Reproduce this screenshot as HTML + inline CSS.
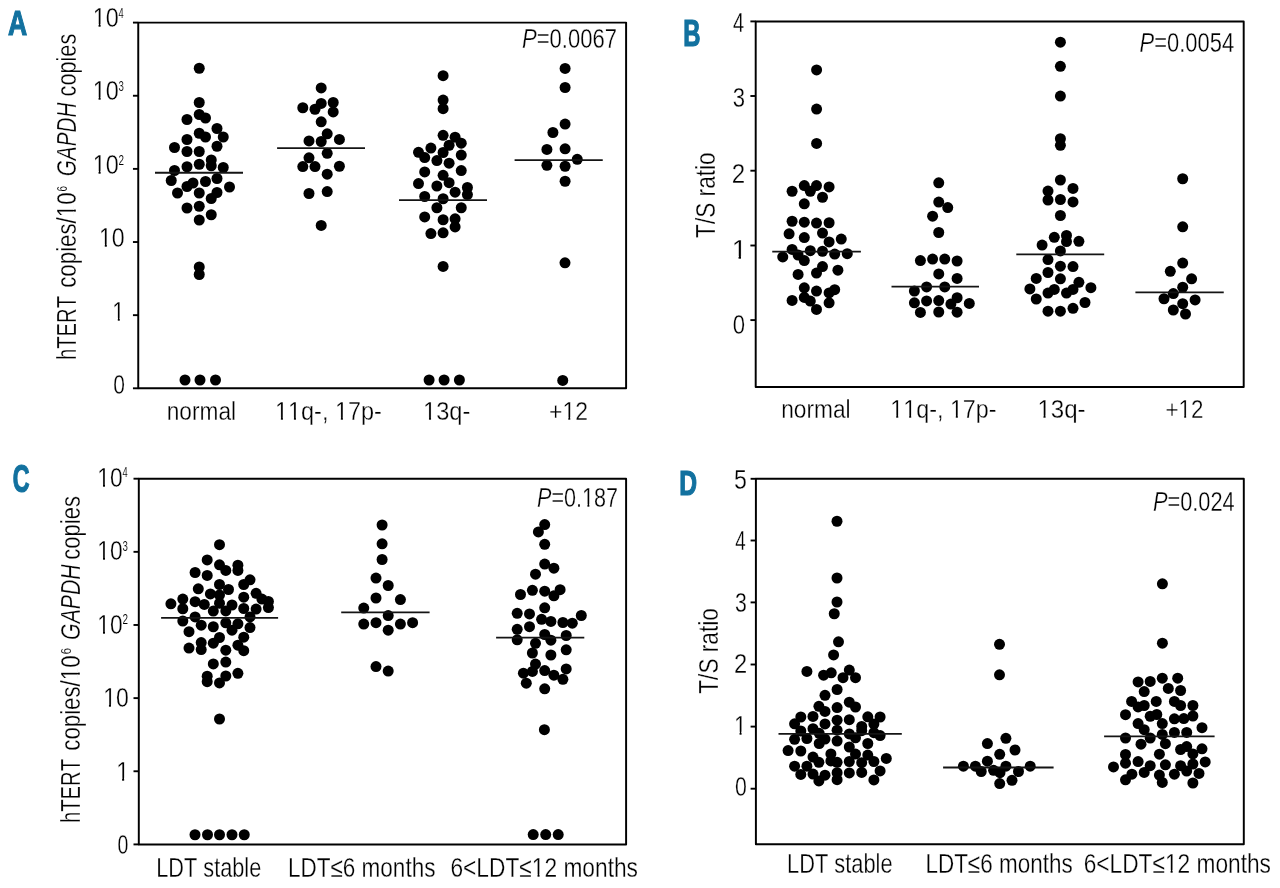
<!DOCTYPE html>
<html><head><meta charset="utf-8"><title>Figure</title>
<style>html,body{margin:0;padding:0;background:#fff;}#wrap{width:1280px;height:888px;will-change:transform;}svg{display:block;}text{font-family:"Liberation Sans",sans-serif;font-kerning:none;}.t{stroke:#fff;stroke-width:0.3px;}.b{stroke:#12719f;stroke-width:1.2px;stroke-linejoin:miter;}.s{stroke:#fff;stroke-width:0.12px;}</style></head><body><div id="wrap">
<svg width="1280" height="888" viewBox="0 0 1280 888">
<defs><mask id="m" maskUnits="userSpaceOnUse" x="0" y="0" width="1280" height="888"><rect width="1280" height="888" fill="#fff"/></mask></defs>
<rect width="1280" height="888" fill="#fff"/>
<rect x="138.25" y="22.6" width="487.85" height="365.7" fill="none" stroke="#000" stroke-width="1.95" stroke-linejoin="round"/>
<line x1="132.95" y1="22.6" x2="138.25" y2="22.6" stroke="#000" stroke-width="1.9"/>
<line x1="132.95" y1="95.74" x2="138.25" y2="95.74" stroke="#000" stroke-width="1.9"/>
<line x1="132.95" y1="168.88" x2="138.25" y2="168.88" stroke="#000" stroke-width="1.9"/>
<line x1="132.95" y1="242.02" x2="138.25" y2="242.02" stroke="#000" stroke-width="1.9"/>
<line x1="132.95" y1="315.16" x2="138.25" y2="315.16" stroke="#000" stroke-width="1.9"/>
<line x1="132.95" y1="388.3" x2="138.25" y2="388.3" stroke="#000" stroke-width="1.9"/>
<rect x="755.7" y="21.4" width="488.0" height="365.6" fill="none" stroke="#000" stroke-width="1.95" stroke-linejoin="round"/>
<line x1="750.4" y1="21.4" x2="755.7" y2="21.4" stroke="#000" stroke-width="1.9"/>
<line x1="750.4" y1="96.0" x2="755.7" y2="96.0" stroke="#000" stroke-width="1.9"/>
<line x1="750.4" y1="170.7" x2="755.7" y2="170.7" stroke="#000" stroke-width="1.9"/>
<line x1="750.4" y1="245.5" x2="755.7" y2="245.5" stroke="#000" stroke-width="1.9"/>
<line x1="750.4" y1="320.1" x2="755.7" y2="320.1" stroke="#000" stroke-width="1.9"/>
<rect x="138.8" y="478.7" width="487.3" height="365.7" fill="none" stroke="#000" stroke-width="1.95" stroke-linejoin="round"/>
<line x1="133.5" y1="478.7" x2="138.8" y2="478.7" stroke="#000" stroke-width="1.9"/>
<line x1="133.5" y1="551.84" x2="138.8" y2="551.84" stroke="#000" stroke-width="1.9"/>
<line x1="133.5" y1="624.98" x2="138.8" y2="624.98" stroke="#000" stroke-width="1.9"/>
<line x1="133.5" y1="698.12" x2="138.8" y2="698.12" stroke="#000" stroke-width="1.9"/>
<line x1="133.5" y1="771.26" x2="138.8" y2="771.26" stroke="#000" stroke-width="1.9"/>
<line x1="133.5" y1="844.4" x2="138.8" y2="844.4" stroke="#000" stroke-width="1.9"/>
<rect x="755.9" y="478.8" width="487.9" height="365.5" fill="none" stroke="#000" stroke-width="1.95" stroke-linejoin="round"/>
<line x1="750.6" y1="478.8" x2="755.9" y2="478.8" stroke="#000" stroke-width="1.9"/>
<line x1="750.6" y1="540.5" x2="755.9" y2="540.5" stroke="#000" stroke-width="1.9"/>
<line x1="750.6" y1="602.4" x2="755.9" y2="602.4" stroke="#000" stroke-width="1.9"/>
<line x1="750.6" y1="664.5" x2="755.9" y2="664.5" stroke="#000" stroke-width="1.9"/>
<line x1="750.6" y1="726.6" x2="755.9" y2="726.6" stroke="#000" stroke-width="1.9"/>
<line x1="750.6" y1="788.7" x2="755.9" y2="788.7" stroke="#000" stroke-width="1.9"/>
<g id="dotsA">
<g fill="#000">
<circle cx="199.25" cy="68.25" r="5.5"/>
<circle cx="199.25" cy="102.5" r="5.5"/>
<circle cx="199.25" cy="114.5" r="5.5"/>
<circle cx="205.5" cy="118" r="5.5"/>
<circle cx="187" cy="119.5" r="5.5"/>
<circle cx="217" cy="128.5" r="5.5"/>
<circle cx="199.25" cy="133.25" r="5.5"/>
<circle cx="205.5" cy="137" r="5.5"/>
<circle cx="223.25" cy="137" r="5.5"/>
<circle cx="187" cy="139.5" r="5.5"/>
<circle cx="217" cy="146.25" r="5.5"/>
<circle cx="174.5" cy="147.5" r="5.5"/>
<circle cx="187" cy="151.5" r="5.5"/>
<circle cx="199.25" cy="151.5" r="5.5"/>
<circle cx="211.25" cy="160" r="5.5"/>
<circle cx="199.25" cy="164.25" r="5.5"/>
<circle cx="211.25" cy="165.75" r="5.5"/>
<circle cx="187" cy="166.75" r="5.5"/>
<circle cx="223.25" cy="167.5" r="5.5"/>
<circle cx="174.5" cy="170.5" r="5.5"/>
<circle cx="217" cy="178.5" r="5.5"/>
<circle cx="171.25" cy="180.5" r="5.5"/>
<circle cx="205.5" cy="181.5" r="5.5"/>
<circle cx="193" cy="183" r="5.5"/>
<circle cx="187" cy="186.5" r="5.5"/>
<circle cx="229.5" cy="187" r="5.5"/>
<circle cx="217" cy="192.5" r="5.5"/>
<circle cx="177.5" cy="193" r="5.5"/>
<circle cx="199.25" cy="193" r="5.5"/>
<circle cx="211.25" cy="198.5" r="5.5"/>
<circle cx="199.25" cy="206.25" r="5.5"/>
<circle cx="187" cy="208" r="5.5"/>
<circle cx="211.25" cy="214.75" r="5.5"/>
<circle cx="199.25" cy="220" r="5.5"/>
<circle cx="199.25" cy="267" r="5.5"/>
<circle cx="199.25" cy="274.5" r="5.5"/>
<circle cx="185" cy="380" r="5.5"/>
<circle cx="200" cy="380" r="5.5"/>
<circle cx="215.5" cy="380" r="5.5"/>
<circle cx="321.2" cy="87.9" r="5.5"/>
<circle cx="321.2" cy="103.4" r="5.5"/>
<circle cx="333.2" cy="102.5" r="5.5"/>
<circle cx="302.8" cy="107.75" r="5.5"/>
<circle cx="315" cy="109.25" r="5.5"/>
<circle cx="333.2" cy="111.9" r="5.5"/>
<circle cx="321.2" cy="121.8" r="5.5"/>
<circle cx="327.2" cy="133.8" r="5.5"/>
<circle cx="309" cy="140.9" r="5.5"/>
<circle cx="321.2" cy="141.5" r="5.5"/>
<circle cx="339.4" cy="139.4" r="5.5"/>
<circle cx="327.2" cy="153.3" r="5.5"/>
<circle cx="309" cy="157.8" r="5.5"/>
<circle cx="302.8" cy="166.6" r="5.5"/>
<circle cx="315" cy="166.6" r="5.5"/>
<circle cx="339.4" cy="166.25" r="5.5"/>
<circle cx="327.2" cy="174.2" r="5.5"/>
<circle cx="309" cy="193.5" r="5.5"/>
<circle cx="327.2" cy="191.6" r="5.5"/>
<circle cx="321.2" cy="225.4" r="5.5"/>
<circle cx="443.1" cy="75.7" r="5.5"/>
<circle cx="443.1" cy="100.1" r="5.5"/>
<circle cx="443.1" cy="108.7" r="5.5"/>
<circle cx="443.1" cy="135.3" r="5.5"/>
<circle cx="455.1" cy="137.2" r="5.5"/>
<circle cx="461.25" cy="143.2" r="5.5"/>
<circle cx="449.1" cy="145.25" r="5.5"/>
<circle cx="430.9" cy="148.1" r="5.5"/>
<circle cx="418.5" cy="152.3" r="5.5"/>
<circle cx="443.1" cy="152.5" r="5.5"/>
<circle cx="461.25" cy="155.1" r="5.5"/>
<circle cx="424.7" cy="157.6" r="5.5"/>
<circle cx="436.9" cy="160.6" r="5.5"/>
<circle cx="449.1" cy="163.2" r="5.5"/>
<circle cx="461.25" cy="170.6" r="5.5"/>
<circle cx="424.7" cy="171.9" r="5.5"/>
<circle cx="443.1" cy="175.3" r="5.5"/>
<circle cx="449.1" cy="182.7" r="5.5"/>
<circle cx="418.5" cy="183.6" r="5.5"/>
<circle cx="436.9" cy="186" r="5.5"/>
<circle cx="467.4" cy="187.5" r="5.5"/>
<circle cx="455.1" cy="192.2" r="5.5"/>
<circle cx="467.4" cy="194.6" r="5.5"/>
<circle cx="424.7" cy="196.5" r="5.5"/>
<circle cx="443.1" cy="198.75" r="5.5"/>
<circle cx="436.9" cy="207.75" r="5.5"/>
<circle cx="461.25" cy="207.75" r="5.5"/>
<circle cx="424.7" cy="216.9" r="5.5"/>
<circle cx="443.1" cy="219.75" r="5.5"/>
<circle cx="455.1" cy="218.8" r="5.5"/>
<circle cx="455.1" cy="226.9" r="5.5"/>
<circle cx="430.9" cy="233.6" r="5.5"/>
<circle cx="443.1" cy="232.8" r="5.5"/>
<circle cx="443.1" cy="266.4" r="5.5"/>
<circle cx="429.1" cy="380" r="5.5"/>
<circle cx="444.1" cy="380" r="5.5"/>
<circle cx="459.4" cy="380" r="5.5"/>
<circle cx="565.1" cy="68.4" r="5.5"/>
<circle cx="565.1" cy="87.5" r="5.5"/>
<circle cx="565.1" cy="124.1" r="5.5"/>
<circle cx="552.9" cy="132.5" r="5.5"/>
<circle cx="546.9" cy="149.4" r="5.5"/>
<circle cx="565.1" cy="148.8" r="5.5"/>
<circle cx="577.25" cy="159.3" r="5.5"/>
<circle cx="546.9" cy="165.3" r="5.5"/>
<circle cx="565.1" cy="166.25" r="5.5"/>
<circle cx="565.1" cy="181.25" r="5.5"/>
<circle cx="565" cy="262.8" r="5.5"/>
<circle cx="562.75" cy="380.4" r="5.5"/>
</g>
<line x1="155" y1="172.8" x2="243" y2="172.8" stroke="#141414" stroke-width="1.9"/>
<line x1="277.1" y1="148.1" x2="365" y2="148.1" stroke="#141414" stroke-width="1.9"/>
<line x1="399" y1="200.1" x2="487" y2="200.1" stroke="#141414" stroke-width="1.9"/>
<line x1="514.6" y1="160.1" x2="602.75" y2="160.1" stroke="#141414" stroke-width="1.9"/>
</g>
<g id="dotsB">
<g fill="#000">
<circle cx="816.6" cy="69.9" r="5.5"/>
<circle cx="816.6" cy="109.1" r="5.5"/>
<circle cx="816.6" cy="143.4" r="5.5"/>
<circle cx="804.3" cy="185.6" r="5.5"/>
<circle cx="816.5" cy="185.6" r="5.5"/>
<circle cx="829.1" cy="186.9" r="5.5"/>
<circle cx="792.1" cy="191.25" r="5.5"/>
<circle cx="810.3" cy="191.25" r="5.5"/>
<circle cx="822.5" cy="197.25" r="5.5"/>
<circle cx="804.3" cy="203.8" r="5.5"/>
<circle cx="792.1" cy="221.25" r="5.5"/>
<circle cx="804.3" cy="222.2" r="5.5"/>
<circle cx="816.5" cy="223.1" r="5.5"/>
<circle cx="829.1" cy="222.75" r="5.5"/>
<circle cx="789.1" cy="233.8" r="5.5"/>
<circle cx="822.5" cy="233.1" r="5.5"/>
<circle cx="804.3" cy="237.6" r="5.5"/>
<circle cx="841.25" cy="239.1" r="5.5"/>
<circle cx="829.1" cy="241.9" r="5.5"/>
<circle cx="792.1" cy="249.4" r="5.5"/>
<circle cx="810.3" cy="250.7" r="5.5"/>
<circle cx="822.5" cy="251.25" r="5.5"/>
<circle cx="834.7" cy="254.1" r="5.5"/>
<circle cx="847.25" cy="253.7" r="5.5"/>
<circle cx="782.75" cy="256.9" r="5.5"/>
<circle cx="798.1" cy="255" r="5.5"/>
<circle cx="804.3" cy="260.6" r="5.5"/>
<circle cx="822.5" cy="266.6" r="5.5"/>
<circle cx="837.9" cy="270.2" r="5.5"/>
<circle cx="816.5" cy="273.1" r="5.5"/>
<circle cx="798.1" cy="274.4" r="5.5"/>
<circle cx="804.3" cy="287.8" r="5.5"/>
<circle cx="834.7" cy="289.7" r="5.5"/>
<circle cx="816.5" cy="291.1" r="5.5"/>
<circle cx="829.1" cy="292.9" r="5.5"/>
<circle cx="804.3" cy="297.4" r="5.5"/>
<circle cx="792.1" cy="300.4" r="5.5"/>
<circle cx="810.3" cy="301.1" r="5.5"/>
<circle cx="829.1" cy="302.8" r="5.5"/>
<circle cx="816.5" cy="309.4" r="5.5"/>
<circle cx="938.75" cy="182.8" r="5.5"/>
<circle cx="938.75" cy="202.1" r="5.5"/>
<circle cx="947.75" cy="207.6" r="5.5"/>
<circle cx="932.6" cy="216.2" r="5.5"/>
<circle cx="938.75" cy="232.5" r="5.5"/>
<circle cx="920.4" cy="260.6" r="5.5"/>
<circle cx="932.6" cy="259.1" r="5.5"/>
<circle cx="944.75" cy="259.1" r="5.5"/>
<circle cx="957.1" cy="261" r="5.5"/>
<circle cx="938.75" cy="273.9" r="5.5"/>
<circle cx="957.1" cy="278.4" r="5.5"/>
<circle cx="926.6" cy="286.9" r="5.5"/>
<circle cx="944.75" cy="286.9" r="5.5"/>
<circle cx="914.4" cy="291" r="5.5"/>
<circle cx="957.1" cy="297.75" r="5.5"/>
<circle cx="914.4" cy="302.8" r="5.5"/>
<circle cx="926.6" cy="300.9" r="5.5"/>
<circle cx="938.75" cy="300.6" r="5.5"/>
<circle cx="950.9" cy="304.1" r="5.5"/>
<circle cx="969.3" cy="303.4" r="5.5"/>
<circle cx="920.4" cy="312.4" r="5.5"/>
<circle cx="938.75" cy="312" r="5.5"/>
<circle cx="957.1" cy="312.2" r="5.5"/>
<circle cx="1060.4" cy="42.2" r="5.5"/>
<circle cx="1060.4" cy="66.3" r="5.5"/>
<circle cx="1060.4" cy="96.1" r="5.5"/>
<circle cx="1060.4" cy="138.75" r="5.5"/>
<circle cx="1060.4" cy="145.3" r="5.5"/>
<circle cx="1060.4" cy="180" r="5.5"/>
<circle cx="1048" cy="191.1" r="5.5"/>
<circle cx="1073" cy="188.4" r="5.5"/>
<circle cx="1048" cy="200" r="5.5"/>
<circle cx="1060.4" cy="199.5" r="5.5"/>
<circle cx="1073" cy="201.9" r="5.5"/>
<circle cx="1060.4" cy="215.5" r="5.5"/>
<circle cx="1054.3" cy="237.3" r="5.5"/>
<circle cx="1066.5" cy="235.5" r="5.5"/>
<circle cx="1066.5" cy="241.6" r="5.5"/>
<circle cx="1078.9" cy="241.3" r="5.5"/>
<circle cx="1042.1" cy="245.1" r="5.5"/>
<circle cx="1060.4" cy="250.9" r="5.5"/>
<circle cx="1048" cy="259.6" r="5.5"/>
<circle cx="1060.4" cy="266.2" r="5.5"/>
<circle cx="1073" cy="266.6" r="5.5"/>
<circle cx="1048" cy="272.5" r="5.5"/>
<circle cx="1036.25" cy="278.4" r="5.5"/>
<circle cx="1060.4" cy="278.8" r="5.5"/>
<circle cx="1078.9" cy="282.3" r="5.5"/>
<circle cx="1029.9" cy="288.9" r="5.5"/>
<circle cx="1054.3" cy="289.4" r="5.5"/>
<circle cx="1073" cy="289.4" r="5.5"/>
<circle cx="1090.9" cy="287.7" r="5.5"/>
<circle cx="1048" cy="293.1" r="5.5"/>
<circle cx="1066.5" cy="293.1" r="5.5"/>
<circle cx="1036.25" cy="299" r="5.5"/>
<circle cx="1085" cy="302.5" r="5.5"/>
<circle cx="1073" cy="308.3" r="5.5"/>
<circle cx="1048" cy="311.2" r="5.5"/>
<circle cx="1060.4" cy="311.2" r="5.5"/>
<circle cx="1182.7" cy="178.75" r="5.5"/>
<circle cx="1182.7" cy="226.8" r="5.5"/>
<circle cx="1182.7" cy="263.1" r="5.5"/>
<circle cx="1170.3" cy="271.3" r="5.5"/>
<circle cx="1191.6" cy="278.8" r="5.5"/>
<circle cx="1182.7" cy="287.25" r="5.5"/>
<circle cx="1173.3" cy="293.6" r="5.5"/>
<circle cx="1164" cy="298.75" r="5.5"/>
<circle cx="1195.1" cy="299.9" r="5.5"/>
<circle cx="1182.7" cy="303.7" r="5.5"/>
<circle cx="1173.3" cy="310" r="5.5"/>
<circle cx="1185.5" cy="314" r="5.5"/>
</g>
<line x1="772.25" y1="251.6" x2="860.9" y2="251.6" stroke="#141414" stroke-width="1.9"/>
<line x1="891.5" y1="286.6" x2="979" y2="286.6" stroke="#141414" stroke-width="1.9"/>
<line x1="1016.3" y1="254.4" x2="1104.2" y2="254.4" stroke="#141414" stroke-width="1.9"/>
<line x1="1135.4" y1="292.4" x2="1223.75" y2="292.4" stroke="#141414" stroke-width="1.9"/>
</g>
<g id="dotsC">
<g fill="#000">
<circle cx="219.5" cy="544.65" r="5.5"/>
<circle cx="207.2" cy="559.9" r="5.5"/>
<circle cx="219.5" cy="564.8" r="5.5"/>
<circle cx="237.9" cy="565.2" r="5.5"/>
<circle cx="225.8" cy="570.4" r="5.5"/>
<circle cx="237.9" cy="570.4" r="5.5"/>
<circle cx="195.1" cy="572.5" r="5.5"/>
<circle cx="207.2" cy="575.4" r="5.5"/>
<circle cx="250" cy="579.8" r="5.5"/>
<circle cx="219.5" cy="584.5" r="5.5"/>
<circle cx="243.75" cy="584.5" r="5.5"/>
<circle cx="198.3" cy="588.8" r="5.5"/>
<circle cx="228.5" cy="589.5" r="5.5"/>
<circle cx="210.4" cy="593.9" r="5.5"/>
<circle cx="219.5" cy="595" r="5.5"/>
<circle cx="256.1" cy="593.3" r="5.5"/>
<circle cx="243.75" cy="597.2" r="5.5"/>
<circle cx="182.8" cy="599.1" r="5.5"/>
<circle cx="261.9" cy="599.1" r="5.5"/>
<circle cx="268.4" cy="601.5" r="5.5"/>
<circle cx="170.9" cy="603.8" r="5.5"/>
<circle cx="195.1" cy="601.7" r="5.5"/>
<circle cx="204.3" cy="604.4" r="5.5"/>
<circle cx="219.5" cy="603.25" r="5.5"/>
<circle cx="232" cy="605" r="5.5"/>
<circle cx="182.8" cy="608.75" r="5.5"/>
<circle cx="243.75" cy="608.5" r="5.5"/>
<circle cx="256.1" cy="609.1" r="5.5"/>
<circle cx="268.4" cy="607.6" r="5.5"/>
<circle cx="213.3" cy="611.1" r="5.5"/>
<circle cx="225.8" cy="610.9" r="5.5"/>
<circle cx="195.1" cy="616.9" r="5.5"/>
<circle cx="250" cy="616.9" r="5.5"/>
<circle cx="182.8" cy="621" r="5.5"/>
<circle cx="225.8" cy="622.8" r="5.5"/>
<circle cx="237.9" cy="623.8" r="5.5"/>
<circle cx="201.2" cy="625.2" r="5.5"/>
<circle cx="213.3" cy="626.75" r="5.5"/>
<circle cx="250" cy="627.6" r="5.5"/>
<circle cx="232" cy="630.2" r="5.5"/>
<circle cx="189" cy="631.7" r="5.5"/>
<circle cx="219.5" cy="637.5" r="5.5"/>
<circle cx="243.75" cy="637.2" r="5.5"/>
<circle cx="201.2" cy="642.6" r="5.5"/>
<circle cx="213.3" cy="643.2" r="5.5"/>
<circle cx="237.9" cy="645.2" r="5.5"/>
<circle cx="189" cy="648.1" r="5.5"/>
<circle cx="201.2" cy="649.6" r="5.5"/>
<circle cx="225.8" cy="650.2" r="5.5"/>
<circle cx="243.75" cy="650.7" r="5.5"/>
<circle cx="225.8" cy="662.1" r="5.5"/>
<circle cx="213.3" cy="663.9" r="5.5"/>
<circle cx="237.9" cy="673.3" r="5.5"/>
<circle cx="207.2" cy="676.2" r="5.5"/>
<circle cx="225.8" cy="676" r="5.5"/>
<circle cx="207.2" cy="681.7" r="5.5"/>
<circle cx="219.5" cy="682.9" r="5.5"/>
<circle cx="219.5" cy="719" r="5.5"/>
<circle cx="195" cy="834.75" r="5.5"/>
<circle cx="207.5" cy="834.75" r="5.5"/>
<circle cx="219.5" cy="834.75" r="5.5"/>
<circle cx="232" cy="834.75" r="5.5"/>
<circle cx="244.25" cy="834.75" r="5.5"/>
<circle cx="382.1" cy="525" r="5.5"/>
<circle cx="382.1" cy="543.8" r="5.5"/>
<circle cx="382.1" cy="559.5" r="5.5"/>
<circle cx="376" cy="578.1" r="5.5"/>
<circle cx="388.2" cy="585.5" r="5.5"/>
<circle cx="376" cy="598" r="5.5"/>
<circle cx="400.4" cy="599.6" r="5.5"/>
<circle cx="363.75" cy="608.1" r="5.5"/>
<circle cx="388.2" cy="615.6" r="5.5"/>
<circle cx="363.75" cy="624.1" r="5.5"/>
<circle cx="376" cy="622.7" r="5.5"/>
<circle cx="400.4" cy="624.1" r="5.5"/>
<circle cx="412.6" cy="622.7" r="5.5"/>
<circle cx="388.2" cy="630.2" r="5.5"/>
<circle cx="376" cy="666.6" r="5.5"/>
<circle cx="388.2" cy="671.1" r="5.5"/>
<circle cx="544.7" cy="524.6" r="5.5"/>
<circle cx="538.4" cy="531.9" r="5.5"/>
<circle cx="544.7" cy="544.3" r="5.5"/>
<circle cx="544.7" cy="564.1" r="5.5"/>
<circle cx="553.9" cy="568.2" r="5.5"/>
<circle cx="535.5" cy="574.2" r="5.5"/>
<circle cx="532.4" cy="590.3" r="5.5"/>
<circle cx="544.7" cy="591.2" r="5.5"/>
<circle cx="560.1" cy="589.7" r="5.5"/>
<circle cx="520.5" cy="594.5" r="5.5"/>
<circle cx="553.9" cy="595.8" r="5.5"/>
<circle cx="544.7" cy="607.8" r="5.5"/>
<circle cx="517.2" cy="613.3" r="5.5"/>
<circle cx="529.5" cy="613.9" r="5.5"/>
<circle cx="581.3" cy="615.5" r="5.5"/>
<circle cx="541.6" cy="619.3" r="5.5"/>
<circle cx="550.9" cy="621.4" r="5.5"/>
<circle cx="562.9" cy="622.5" r="5.5"/>
<circle cx="572.3" cy="623.2" r="5.5"/>
<circle cx="529.5" cy="626.7" r="5.5"/>
<circle cx="517.2" cy="629.3" r="5.5"/>
<circle cx="544.7" cy="634.5" r="5.5"/>
<circle cx="566.2" cy="635.5" r="5.5"/>
<circle cx="517.2" cy="639.8" r="5.5"/>
<circle cx="550.9" cy="640.2" r="5.5"/>
<circle cx="535.5" cy="643.3" r="5.5"/>
<circle cx="566.2" cy="649.8" r="5.5"/>
<circle cx="532.4" cy="653" r="5.5"/>
<circle cx="550.9" cy="655" r="5.5"/>
<circle cx="535.5" cy="664.1" r="5.5"/>
<circle cx="566.2" cy="668.9" r="5.5"/>
<circle cx="544.7" cy="670.6" r="5.5"/>
<circle cx="532.4" cy="671.4" r="5.5"/>
<circle cx="523.4" cy="673.2" r="5.5"/>
<circle cx="553.9" cy="675.2" r="5.5"/>
<circle cx="562.9" cy="679.3" r="5.5"/>
<circle cx="526.3" cy="683.2" r="5.5"/>
<circle cx="544.7" cy="688.8" r="5.5"/>
<circle cx="544.4" cy="729.7" r="5.5"/>
<circle cx="533.2" cy="834.6" r="5.5"/>
<circle cx="545.7" cy="834.6" r="5.5"/>
<circle cx="558.2" cy="834.6" r="5.5"/>
</g>
<line x1="161.1" y1="617.9" x2="278.1" y2="617.9" stroke="#141414" stroke-width="1.9"/>
<line x1="341.2" y1="612.4" x2="429.6" y2="612.4" stroke="#141414" stroke-width="1.9"/>
<line x1="496.1" y1="637.6" x2="584.3" y2="637.6" stroke="#141414" stroke-width="1.9"/>
</g>
<g id="dotsD">
<g fill="#000">
<circle cx="837" cy="521.25" r="5.5"/>
<circle cx="837" cy="578" r="5.5"/>
<circle cx="837" cy="602" r="5.5"/>
<circle cx="834.25" cy="613.75" r="5.5"/>
<circle cx="838.5" cy="641.8" r="5.5"/>
<circle cx="833.6" cy="654.9" r="5.5"/>
<circle cx="806.9" cy="671.4" r="5.5"/>
<circle cx="823.6" cy="675.2" r="5.5"/>
<circle cx="831.25" cy="672.8" r="5.5"/>
<circle cx="849.3" cy="670.1" r="5.5"/>
<circle cx="843" cy="677.7" r="5.5"/>
<circle cx="855.5" cy="677.7" r="5.5"/>
<circle cx="837.1" cy="689.5" r="5.5"/>
<circle cx="825" cy="695.3" r="5.5"/>
<circle cx="849.3" cy="702.2" r="5.5"/>
<circle cx="818.9" cy="706.3" r="5.5"/>
<circle cx="837.1" cy="707.6" r="5.5"/>
<circle cx="855.5" cy="707" r="5.5"/>
<circle cx="825" cy="711.4" r="5.5"/>
<circle cx="800.8" cy="717" r="5.5"/>
<circle cx="813" cy="716.4" r="5.5"/>
<circle cx="837.1" cy="720.2" r="5.5"/>
<circle cx="849.3" cy="719.7" r="5.5"/>
<circle cx="867.8" cy="716.8" r="5.5"/>
<circle cx="880.1" cy="717" r="5.5"/>
<circle cx="794.6" cy="723.8" r="5.5"/>
<circle cx="825" cy="723.9" r="5.5"/>
<circle cx="861.7" cy="726.4" r="5.5"/>
<circle cx="873.9" cy="724" r="5.5"/>
<circle cx="800.8" cy="731" r="5.5"/>
<circle cx="813" cy="728.7" r="5.5"/>
<circle cx="837.1" cy="730.2" r="5.5"/>
<circle cx="819.2" cy="733.3" r="5.5"/>
<circle cx="849.3" cy="733.9" r="5.5"/>
<circle cx="861.7" cy="730.7" r="5.5"/>
<circle cx="873.9" cy="732.7" r="5.5"/>
<circle cx="880.1" cy="735.6" r="5.5"/>
<circle cx="794.6" cy="739.3" r="5.5"/>
<circle cx="806.9" cy="738.5" r="5.5"/>
<circle cx="825" cy="739.1" r="5.5"/>
<circle cx="855.5" cy="737.8" r="5.5"/>
<circle cx="837.1" cy="741" r="5.5"/>
<circle cx="819.2" cy="743.5" r="5.5"/>
<circle cx="867.8" cy="743.5" r="5.5"/>
<circle cx="849.3" cy="747" r="5.5"/>
<circle cx="788.1" cy="750.6" r="5.5"/>
<circle cx="800.8" cy="751" r="5.5"/>
<circle cx="830.9" cy="753.9" r="5.5"/>
<circle cx="855.5" cy="754.1" r="5.5"/>
<circle cx="867.8" cy="755.1" r="5.5"/>
<circle cx="813" cy="757.1" r="5.5"/>
<circle cx="886.3" cy="758.4" r="5.5"/>
<circle cx="830.9" cy="760.9" r="5.5"/>
<circle cx="837.1" cy="762.3" r="5.5"/>
<circle cx="818.9" cy="762.3" r="5.5"/>
<circle cx="849.3" cy="761.5" r="5.5"/>
<circle cx="861.7" cy="762.7" r="5.5"/>
<circle cx="873.9" cy="761.5" r="5.5"/>
<circle cx="794.6" cy="766.2" r="5.5"/>
<circle cx="806.9" cy="766.2" r="5.5"/>
<circle cx="880.1" cy="770.9" r="5.5"/>
<circle cx="837.1" cy="772.7" r="5.5"/>
<circle cx="849.3" cy="772.9" r="5.5"/>
<circle cx="861.7" cy="772.4" r="5.5"/>
<circle cx="800.8" cy="774.4" r="5.5"/>
<circle cx="813" cy="774.1" r="5.5"/>
<circle cx="825" cy="775.2" r="5.5"/>
<circle cx="837.1" cy="779.7" r="5.5"/>
<circle cx="873.9" cy="779.9" r="5.5"/>
<circle cx="818.9" cy="780.9" r="5.5"/>
<circle cx="999.5" cy="644.3" r="5.5"/>
<circle cx="999.5" cy="674.8" r="5.5"/>
<circle cx="1005.9" cy="738.3" r="5.5"/>
<circle cx="987.4" cy="743.6" r="5.5"/>
<circle cx="1015" cy="750" r="5.5"/>
<circle cx="999.7" cy="754.3" r="5.5"/>
<circle cx="987.4" cy="761.2" r="5.5"/>
<circle cx="963.4" cy="766.2" r="5.5"/>
<circle cx="975.4" cy="766.2" r="5.5"/>
<circle cx="1005.9" cy="766.2" r="5.5"/>
<circle cx="1030.2" cy="766.2" r="5.5"/>
<circle cx="981.2" cy="771.5" r="5.5"/>
<circle cx="993.6" cy="770.3" r="5.5"/>
<circle cx="1000" cy="772.7" r="5.5"/>
<circle cx="1018.5" cy="771.5" r="5.5"/>
<circle cx="1012" cy="780.3" r="5.5"/>
<circle cx="999.7" cy="783.6" r="5.5"/>
<circle cx="1162.4" cy="583.8" r="5.5"/>
<circle cx="1162.4" cy="643.2" r="5.5"/>
<circle cx="1162.3" cy="678.2" r="5.5"/>
<circle cx="1177.7" cy="678.2" r="5.5"/>
<circle cx="1138.1" cy="681.9" r="5.5"/>
<circle cx="1150.2" cy="681.4" r="5.5"/>
<circle cx="1168.3" cy="688.4" r="5.5"/>
<circle cx="1180.6" cy="690.5" r="5.5"/>
<circle cx="1144.2" cy="691.6" r="5.5"/>
<circle cx="1131.6" cy="701.4" r="5.5"/>
<circle cx="1156.25" cy="701.4" r="5.5"/>
<circle cx="1174.4" cy="701.4" r="5.5"/>
<circle cx="1180.6" cy="705.5" r="5.5"/>
<circle cx="1192.9" cy="705.5" r="5.5"/>
<circle cx="1138.1" cy="706.9" r="5.5"/>
<circle cx="1144.2" cy="705.5" r="5.5"/>
<circle cx="1125.5" cy="714.7" r="5.5"/>
<circle cx="1150.2" cy="716.25" r="5.5"/>
<circle cx="1156.8" cy="714.5" r="5.5"/>
<circle cx="1192.9" cy="716" r="5.5"/>
<circle cx="1174.4" cy="718.8" r="5.5"/>
<circle cx="1183.8" cy="718.6" r="5.5"/>
<circle cx="1138.1" cy="723.6" r="5.5"/>
<circle cx="1162.3" cy="723.6" r="5.5"/>
<circle cx="1202" cy="727.7" r="5.5"/>
<circle cx="1144.2" cy="729.7" r="5.5"/>
<circle cx="1174.4" cy="732.4" r="5.5"/>
<circle cx="1186.7" cy="732.4" r="5.5"/>
<circle cx="1162.3" cy="734.4" r="5.5"/>
<circle cx="1125.5" cy="738" r="5.5"/>
<circle cx="1150.2" cy="738" r="5.5"/>
<circle cx="1141" cy="744.2" r="5.5"/>
<circle cx="1165.4" cy="743.7" r="5.5"/>
<circle cx="1186.7" cy="746.6" r="5.5"/>
<circle cx="1180.6" cy="749.5" r="5.5"/>
<circle cx="1202" cy="748.8" r="5.5"/>
<circle cx="1192.9" cy="753.9" r="5.5"/>
<circle cx="1125.5" cy="754.5" r="5.5"/>
<circle cx="1159.4" cy="754.2" r="5.5"/>
<circle cx="1125.5" cy="763.2" r="5.5"/>
<circle cx="1138.1" cy="761.6" r="5.5"/>
<circle cx="1205.2" cy="761.9" r="5.5"/>
<circle cx="1192.9" cy="764" r="5.5"/>
<circle cx="1165.4" cy="764.8" r="5.5"/>
<circle cx="1150.2" cy="765.7" r="5.5"/>
<circle cx="1180.6" cy="765.7" r="5.5"/>
<circle cx="1113.5" cy="766.9" r="5.5"/>
<circle cx="1186.7" cy="771" r="5.5"/>
<circle cx="1144.2" cy="772.4" r="5.5"/>
<circle cx="1199" cy="773.4" r="5.5"/>
<circle cx="1174.4" cy="774.2" r="5.5"/>
<circle cx="1131.9" cy="774.2" r="5.5"/>
<circle cx="1159.4" cy="775.1" r="5.5"/>
<circle cx="1125.5" cy="779.8" r="5.5"/>
<circle cx="1162.3" cy="782.4" r="5.5"/>
<circle cx="1192.9" cy="783" r="5.5"/>
</g>
<line x1="778.5" y1="733.9" x2="901.8" y2="733.9" stroke="#141414" stroke-width="1.9"/>
<line x1="943.1" y1="767.5" x2="1053.6" y2="767.5" stroke="#141414" stroke-width="1.9"/>
<line x1="1104.1" y1="736.4" x2="1214.6" y2="736.4" stroke="#141414" stroke-width="1.9"/>
</g>
<g id="texts" mask="url(#m)">
<text class="t" font-size="27.7" fill="#000" textLength="26.04" lengthAdjust="spacingAndGlyphs" x="92.67" y="26.8">10</text>
<rect x="93.13" y="24.03" width="5.43" height="3.67" fill="#fff"/><rect x="100.63" y="24.03" width="5.48" height="3.67" fill="#fff"/>
<text class="s" font-size="14.3" fill="#000" textLength="5.16" lengthAdjust="spacingAndGlyphs" x="118.61" y="17.6">4</text>
<text class="t" font-size="27.7" fill="#000" textLength="26.04" lengthAdjust="spacingAndGlyphs" x="92.67" y="100.2">10</text>
<rect x="93.13" y="97.43" width="5.43" height="3.67" fill="#fff"/><rect x="100.63" y="97.43" width="5.48" height="3.67" fill="#fff"/>
<text class="s" font-size="14.3" fill="#000" textLength="5.38" lengthAdjust="spacingAndGlyphs" x="118.62" y="91.0">3</text>
<text class="t" font-size="27.7" fill="#000" textLength="26.04" lengthAdjust="spacingAndGlyphs" x="92.67" y="173.7">10</text>
<rect x="93.13" y="170.93" width="5.43" height="3.67" fill="#fff"/><rect x="100.63" y="170.93" width="5.48" height="3.67" fill="#fff"/>
<text class="s" font-size="14.3" fill="#000" textLength="5.52" lengthAdjust="spacingAndGlyphs" x="118.44" y="164.5">2</text>
<text class="t" font-size="27.7" fill="#000" textLength="25.73" lengthAdjust="spacingAndGlyphs" x="98.97" y="247.1">10</text>
<rect x="99.42" y="244.33" width="5.37" height="3.67" fill="#fff"/><rect x="106.83" y="244.33" width="5.41" height="3.67" fill="#fff"/>
<text class="t" font-size="27.7" fill="#000" textLength="12.33" lengthAdjust="spacingAndGlyphs" x="112.23" y="320.6">1</text>
<rect x="112.66" y="317.83" width="5.14" height="3.67" fill="#fff"/><rect x="119.76" y="317.83" width="5.19" height="3.67" fill="#fff"/>
<text class="t" font-size="27.7" fill="#000" textLength="11.67" lengthAdjust="spacingAndGlyphs" x="113.34" y="394.0">0</text>
<text class="t" font-size="27.7" fill="#000" textLength="64.04" lengthAdjust="spacingAndGlyphs" x="76.2" y="360.04" transform="rotate(-90 76.2 360.04)">hTERT</text>
<text class="t" font-size="27.7" fill="#000" textLength="95.32" lengthAdjust="spacingAndGlyphs" x="76.2" y="287.75" transform="rotate(-90 76.2 287.75)">copies/10</text>
<g transform="rotate(-90 76.2 287.75)"><rect x="147.18" y="284.98" width="5.17" height="3.67" fill="#fff"/><rect x="154.32" y="284.98" width="5.22" height="3.67" fill="#fff"/></g>
<text class="s" font-size="14.3" fill="#000" textLength="5.44" lengthAdjust="spacingAndGlyphs" x="66.8" y="191.38" transform="rotate(-90 66.8 191.38)">6</text>
<text class="t" font-size="27.7" fill="#000" textLength="73.88" lengthAdjust="spacingAndGlyphs" x="76.2" y="176.3" transform="rotate(-90 76.2 176.3)"><tspan font-style="italic">GAPDH</tspan></text>
<text class="t" font-size="27.7" fill="#000" textLength="62.71" lengthAdjust="spacingAndGlyphs" x="76.2" y="96.45" transform="rotate(-90 76.2 96.45)">copies</text>
<text class="t" font-size="25.6" fill="#000" textLength="69.41" lengthAdjust="spacingAndGlyphs" x="166.73" y="419.9">normal</text>
<text class="t" font-size="25.6" fill="#000" textLength="106.9" lengthAdjust="spacingAndGlyphs" x="274.98" y="419.9">11q-, 17p-</text>
<rect x="275.44" y="417.29" width="5.44" height="3.51" fill="#fff"/><rect x="282.95" y="417.29" width="5.48" height="3.51" fill="#fff"/>
<rect x="288.47" y="417.29" width="5.44" height="3.51" fill="#fff"/><rect x="295.99" y="417.29" width="5.49" height="3.51" fill="#fff"/>
<rect x="335.4" y="417.29" width="5.44" height="3.51" fill="#fff"/><rect x="342.92" y="417.29" width="5.49" height="3.51" fill="#fff"/>
<text class="t" font-size="25.6" fill="#000" textLength="47.32" lengthAdjust="spacingAndGlyphs" x="423.02" y="419.9">13q-</text>
<rect x="423.48" y="417.29" width="5.48" height="3.51" fill="#fff"/><rect x="431.05" y="417.29" width="5.53" height="3.51" fill="#fff"/>
<text class="t" font-size="25.6" fill="#000" textLength="38.94" lengthAdjust="spacingAndGlyphs" x="549.09" y="419.9">+12</text>
<rect x="562.93" y="417.29" width="5.33" height="3.51" fill="#fff"/><rect x="570.29" y="417.29" width="5.37" height="3.51" fill="#fff"/>
<text class="t" font-size="27.7" fill="#000" textLength="95.01" lengthAdjust="spacingAndGlyphs" x="521.98" y="47.75"><tspan font-style="italic">P</tspan>=0.0067</text>
<text class="b" font-size="35.8" fill="#12719f" font-weight="bold" textLength="19.18" lengthAdjust="spacingAndGlyphs" x="8.03" y="35.4">A</text>
<text class="t" font-size="27.7" fill="#000" textLength="11.07" lengthAdjust="spacingAndGlyphs" x="732.94" y="31.9">4</text>
<text class="t" font-size="27.7" fill="#000" textLength="12.29" lengthAdjust="spacingAndGlyphs" x="732.71" y="107.4">3</text>
<text class="t" font-size="27.7" fill="#000" textLength="13.41" lengthAdjust="spacingAndGlyphs" x="731.83" y="183.0">2</text>
<text class="t" font-size="27.7" fill="#000" textLength="15.27" lengthAdjust="spacingAndGlyphs" x="731.65" y="258.9">1</text>
<rect x="732.19" y="256.13" width="6.37" height="3.67" fill="#fff"/><rect x="740.98" y="256.13" width="6.42" height="3.67" fill="#fff"/>
<text class="t" font-size="27.7" fill="#000" textLength="12.29" lengthAdjust="spacingAndGlyphs" x="732.71" y="334.4">0</text>
<text class="t" font-size="27.7" fill="#000" textLength="85.57" lengthAdjust="spacingAndGlyphs" x="714.7" y="237.88" transform="rotate(-90 714.7 237.88)">T/S ratio</text>
<text class="t" font-size="25.6" fill="#000" textLength="69.46" lengthAdjust="spacingAndGlyphs" x="781.14" y="418.2">normal</text>
<text class="t" font-size="25.6" fill="#000" textLength="106.22" lengthAdjust="spacingAndGlyphs" x="890.34" y="418.2">11q-, 17p-</text>
<rect x="890.8" y="415.59" width="5.4" height="3.51" fill="#fff"/><rect x="898.26" y="415.59" width="5.45" height="3.51" fill="#fff"/>
<rect x="903.74" y="415.59" width="5.41" height="3.51" fill="#fff"/><rect x="911.21" y="415.59" width="5.46" height="3.51" fill="#fff"/>
<rect x="950.37" y="415.59" width="5.41" height="3.51" fill="#fff"/><rect x="957.84" y="415.59" width="5.46" height="3.51" fill="#fff"/>
<text class="t" font-size="25.6" fill="#000" textLength="48.21" lengthAdjust="spacingAndGlyphs" x="1037.4" y="418.2">13q-</text>
<rect x="1037.87" y="415.59" width="5.59" height="3.51" fill="#fff"/><rect x="1045.58" y="415.59" width="5.63" height="3.51" fill="#fff"/>
<text class="t" font-size="25.6" fill="#000" textLength="37.93" lengthAdjust="spacingAndGlyphs" x="1165.5" y="418.2">+12</text>
<rect x="1178.99" y="415.59" width="5.19" height="3.51" fill="#fff"/><rect x="1186.15" y="415.59" width="5.23" height="3.51" fill="#fff"/>
<text class="t" font-size="27.7" fill="#000" textLength="94.54" lengthAdjust="spacingAndGlyphs" x="1139.55" y="52.0"><tspan font-style="italic">P</tspan>=0.0054</text>
<text class="b" font-size="36" fill="#12719f" font-weight="bold" textLength="17.21" lengthAdjust="spacingAndGlyphs" x="683.31" y="46.25">B</text>
<text class="t" font-size="27.7" fill="#000" textLength="25.31" lengthAdjust="spacingAndGlyphs" x="97.27" y="486.6">10</text>
<rect x="97.71" y="483.83" width="5.28" height="3.67" fill="#fff"/><rect x="105.0" y="483.83" width="5.32" height="3.67" fill="#fff"/>
<text class="s" font-size="14.3" fill="#000" textLength="5.16" lengthAdjust="spacingAndGlyphs" x="122.61" y="477.1">4</text>
<text class="t" font-size="27.7" fill="#000" textLength="25.31" lengthAdjust="spacingAndGlyphs" x="97.27" y="560.05">10</text>
<rect x="97.71" y="557.28" width="5.28" height="3.67" fill="#fff"/><rect x="105.0" y="557.28" width="5.32" height="3.67" fill="#fff"/>
<text class="s" font-size="14.3" fill="#000" textLength="5.38" lengthAdjust="spacingAndGlyphs" x="122.62" y="550.55">3</text>
<text class="t" font-size="27.7" fill="#000" textLength="25.31" lengthAdjust="spacingAndGlyphs" x="97.27" y="633.5">10</text>
<rect x="97.71" y="630.73" width="5.28" height="3.67" fill="#fff"/><rect x="105.0" y="630.73" width="5.32" height="3.67" fill="#fff"/>
<text class="s" font-size="14.3" fill="#000" textLength="5.52" lengthAdjust="spacingAndGlyphs" x="122.44" y="624.0">2</text>
<text class="t" font-size="27.7" fill="#000" textLength="25.64" lengthAdjust="spacingAndGlyphs" x="103.14" y="707.0">10</text>
<rect x="103.59" y="704.23" width="5.35" height="3.67" fill="#fff"/><rect x="110.97" y="704.23" width="5.39" height="3.67" fill="#fff"/>
<text class="t" font-size="27.7" fill="#000" textLength="12.99" lengthAdjust="spacingAndGlyphs" x="116.21" y="780.5">1</text>
<rect x="116.67" y="777.73" width="5.42" height="3.67" fill="#fff"/><rect x="124.15" y="777.73" width="5.46" height="3.67" fill="#fff"/>
<text class="t" font-size="27.7" fill="#000" textLength="10.86" lengthAdjust="spacingAndGlyphs" x="117.59" y="853.9">0</text>
<text class="t" font-size="27.7" fill="#000" textLength="64.04" lengthAdjust="spacingAndGlyphs" x="80.4" y="823.04" transform="rotate(-90 80.4 823.04)">hTERT</text>
<text class="t" font-size="27.7" fill="#000" textLength="95.32" lengthAdjust="spacingAndGlyphs" x="80.4" y="750.75" transform="rotate(-90 80.4 750.75)">copies/10</text>
<g transform="rotate(-90 80.4 750.75)"><rect x="151.38" y="747.98" width="5.17" height="3.67" fill="#fff"/><rect x="158.52" y="747.98" width="5.22" height="3.67" fill="#fff"/></g>
<text class="s" font-size="14.3" fill="#000" textLength="6.31" lengthAdjust="spacingAndGlyphs" x="71.0" y="654.23" transform="rotate(-90 71.0 654.23)">6</text>
<text class="t" font-size="27.7" fill="#000" textLength="75.59" lengthAdjust="spacingAndGlyphs" x="80.4" y="639.88" transform="rotate(-90 80.4 639.88)"><tspan font-style="italic">GAPDH</tspan></text>
<text class="t" font-size="27.7" fill="#000" textLength="63.57" lengthAdjust="spacingAndGlyphs" x="80.4" y="559.65" transform="rotate(-90 80.4 559.65)">copies</text>
<text class="t" font-size="27.7" fill="#000" textLength="105.0" lengthAdjust="spacingAndGlyphs" x="156.25" y="877.4">LDT stable</text>
<text class="t" font-size="27.7" fill="#000" textLength="147.5" lengthAdjust="spacingAndGlyphs" x="287.93" y="877.4">LDT≤6 months</text>
<text class="t" font-size="27.7" fill="#000" textLength="187.58" lengthAdjust="spacingAndGlyphs" x="450.42" y="877.4">6&lt;LDT≤12 months</text>
<rect x="532.24" y="874.63" width="5.28" height="3.67" fill="#fff"/><rect x="539.53" y="874.63" width="5.32" height="3.67" fill="#fff"/>
<text class="t" font-size="27.7" fill="#000" textLength="80.85" lengthAdjust="spacingAndGlyphs" x="537.11" y="507.2"><tspan font-style="italic">P</tspan>=0.187</text>
<rect x="582.43" y="504.43" width="5.0" height="3.67" fill="#fff"/><rect x="589.34" y="504.43" width="5.04" height="3.67" fill="#fff"/>
<text class="b" font-size="38" fill="#12719f" font-weight="bold" textLength="16.81" lengthAdjust="spacingAndGlyphs" x="12.65" y="492.0">C</text>
<text class="t" font-size="27.7" fill="#000" textLength="12.88" lengthAdjust="spacingAndGlyphs" x="733.97" y="489.0">5</text>
<text class="t" font-size="27.7" fill="#000" textLength="10.46" lengthAdjust="spacingAndGlyphs" x="735.28" y="550.4">4</text>
<text class="t" font-size="27.7" fill="#000" textLength="11.83" lengthAdjust="spacingAndGlyphs" x="734.99" y="611.7">3</text>
<text class="t" font-size="27.7" fill="#000" textLength="13.18" lengthAdjust="spacingAndGlyphs" x="733.95" y="673.1">2</text>
<text class="t" font-size="27.7" fill="#000" textLength="12.54" lengthAdjust="spacingAndGlyphs" x="733.9" y="734.5">1</text>
<rect x="734.34" y="731.73" width="5.23" height="3.67" fill="#fff"/><rect x="741.56" y="731.73" width="5.27" height="3.67" fill="#fff"/>
<text class="t" font-size="27.7" fill="#000" textLength="11.83" lengthAdjust="spacingAndGlyphs" x="735.11" y="795.8">0</text>
<text class="t" font-size="27.7" fill="#000" textLength="85.58" lengthAdjust="spacingAndGlyphs" x="718.5" y="693.72" transform="rotate(-90 718.5 693.72)">T/S ratio</text>
<text class="t" font-size="27.7" fill="#000" textLength="105.57" lengthAdjust="spacingAndGlyphs" x="787.03" y="872.7">LDT stable</text>
<text class="t" font-size="27.7" fill="#000" textLength="147.26" lengthAdjust="spacingAndGlyphs" x="925.41" y="872.7">LDT≤6 months</text>
<text class="t" font-size="27.7" fill="#000" textLength="187.33" lengthAdjust="spacingAndGlyphs" x="1083.63" y="872.7">6&lt;LDT≤12 months</text>
<rect x="1165.34" y="869.93" width="5.27" height="3.67" fill="#fff"/><rect x="1172.62" y="869.93" width="5.31" height="3.67" fill="#fff"/>
<text class="t" font-size="27.7" fill="#000" textLength="81.76" lengthAdjust="spacingAndGlyphs" x="1152.94" y="511.0"><tspan font-style="italic">P</tspan>=0.024</text>
<text class="b" font-size="35.5" fill="#12719f" font-weight="bold" textLength="17.84" lengthAdjust="spacingAndGlyphs" x="679.28" y="495.4">D</text>
</g>
</svg></div></body></html>
